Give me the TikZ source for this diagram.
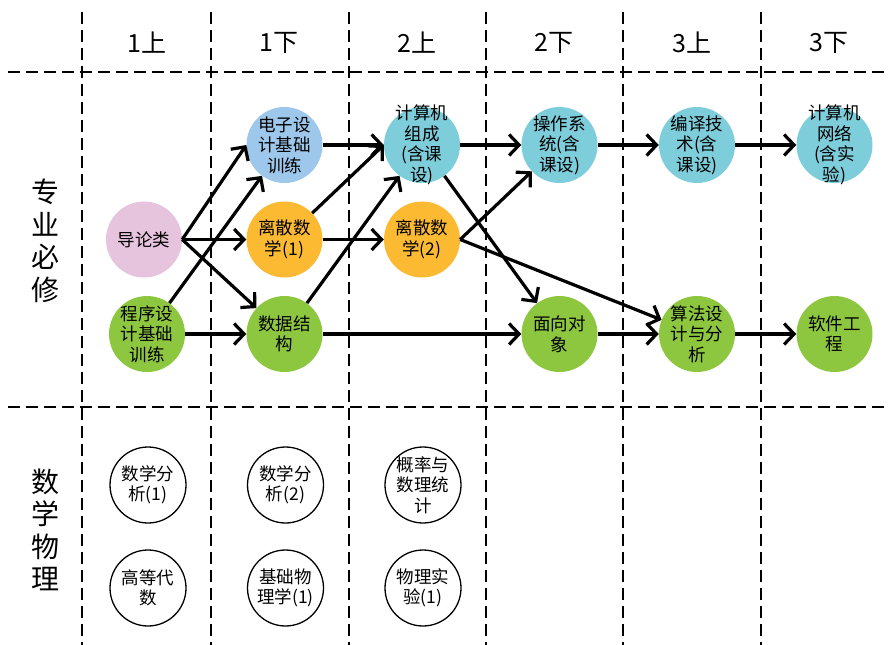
\documentclass[tikz,border=0pt]{standalone}
\usepackage{fontspec}
\setmainfont{Noto Sans CJK SC}
\usetikzlibrary{arrows.meta}

\definecolor{introc}{RGB}{230,196,222}
\definecolor{elecc}{RGB}{157,200,235}
\definecolor{sysc}{RGB}{126,205,218}
\definecolor{discc}{RGB}{251,186,50}
\definecolor{progc}{RGB}{141,198,63}

\tikzstyle{course} = [circle, minimum size=76pt, inner sep=-14pt, align=center, font=\fontsize{17.5}{20.5}\selectfont]
\tikzstyle{intro} = [course, fill=introc]
\tikzstyle{elec} = [course, fill=elecc]
\tikzstyle{sys} = [course, fill=sysc]
\tikzstyle{disc} = [course, fill=discc]
\tikzstyle{prog} = [course, fill=progc]
\tikzstyle{basic} = [course, draw=black, line width=1.3pt, fill=white]
\tikzstyle{term} = [font=\fontsize{25}{28}\selectfont]
\tikzstyle{rowlabel} = [align=center, font=\fontsize{28}{32.5}\selectfont]
\tikzstyle{gridline} = [line width=1.8pt, dash pattern=on 12pt off 6pt]
\tikzstyle{arrow} = [line width=3.2pt, -{Straight Barb[length=10pt,width=21pt]}]

\begin{document}
\begin{tikzpicture}[x=1pt, y=-1pt, node distance=94.5pt]
  \useasboundingbox (0,0) rectangle (889,645);

  % table
  \draw [gridline] (8,72) -- (889,72);
  \draw [gridline] (8,407) -- (889,407);
  \draw [gridline] (82,12) -- (82,645);
  \draw [gridline] (211,12) -- (211,645);
  \draw [gridline] (349,12) -- (349,645);
  \draw [gridline] (486,12) -- (486,645);
  \draw [gridline] (623,12) -- (623,645);
  \draw [gridline] (761,12) -- (761,645);

  \node (t1) [term] at (147,43) {1上};
  \node (t2) [term] at (279,43) {1下};
  \node (t3) [term] at (417,43) {2上};
  \node (t4) [term] at (554,43) {2下};
  \node (t5) [term] at (692,43) {3上};
  \node (t6) [term] at (829,43) {3下};

  \node (major) [rowlabel] at (45,241) {专\\业\\必\\修};
  \node (mathphy) [rowlabel] at (45,530) {数\\学\\物\\理};

  % major courses
  \node (cx) [prog] at (147,334) {程序设\\计基础\\训练};
  \node (dl) [intro, above of=cx, xshift=-3pt] {导论类};
  \node (sj) [prog, right of=cx, xshift=43pt] {数据结\\构};
  \node (ls1) [disc, above of=sj] {离散数\\学(1)};
  \node (dz) [elec, above of=ls1] {电子设\\计基础\\训练};
  \node (ls2) [disc, right of=ls1, xshift=43pt] {离散数\\学(2)};
  \node (jz) [sys, above of=ls2] {计算机\\组成\\(含课\\设)};
  \node (cz) [sys, right of=jz, xshift=43pt] {操作系\\统(含\\课设)};
  \node (by) [sys, right of=cz, xshift=43pt] {编译技\\术(含\\课设)};
  \node (wl) [sys, right of=by, xshift=43pt] {计算机\\网络\\(含实\\验)};
  \node (mx) [prog, below of=cz, node distance=189pt] {面向对\\象};
  \node (sf) [prog, right of=mx, xshift=43pt] {算法设\\计与分\\析};
  \node (rj) [prog, right of=sf, xshift=43pt] {软件工\\程};

  % maths and physics
  \node (sx1) [basic] at (148,485) {数学分\\析(1)};
  \node (gd) [basic, below of=sx1, node distance=103pt] {高等代\\数};
  \node (sx2) [basic, right of=sx1, xshift=43pt] {数学分\\析(2)};
  \node (jc) [basic, right of=gd, xshift=43pt] {基础物\\理学(1)};
  \node (gl) [basic, right of=sx2, xshift=43pt] {概率与\\数理统\\计};
  \node (wsy) [basic, right of=jc, xshift=43pt] {物理实\\验(1)};

  \draw [arrow] (dl.east) -- (dz.west);
  \draw [arrow] (dl.east) -- (ls1.west);
  \draw [arrow] (dl.east) -- (sj);
  \draw [arrow] (cx) -- (dz);
  \draw [arrow] (cx) -- (sj);
  \draw [arrow] (dz) -- (jz.west);
  \draw [arrow] (ls1) -- (jz.west);
  \draw [arrow] (ls1) -- (ls2);
  \draw [arrow] (sj) -- (jz);
  \draw [arrow] (sj) -- (mx);
  \draw [arrow] (jz) -- (cz);
  \draw [arrow] (jz) -- (mx);
  \draw [arrow] (ls2.east) -- (cz);
  \draw [arrow] (ls2.east) -- (sf);
  \draw [arrow] (cz) -- (by);
  \draw [arrow] (by) -- (wl);
  \draw [arrow] (mx) -- (sf);
  \draw [arrow] (sf) -- (rj);
\end{tikzpicture}
\end{document}
